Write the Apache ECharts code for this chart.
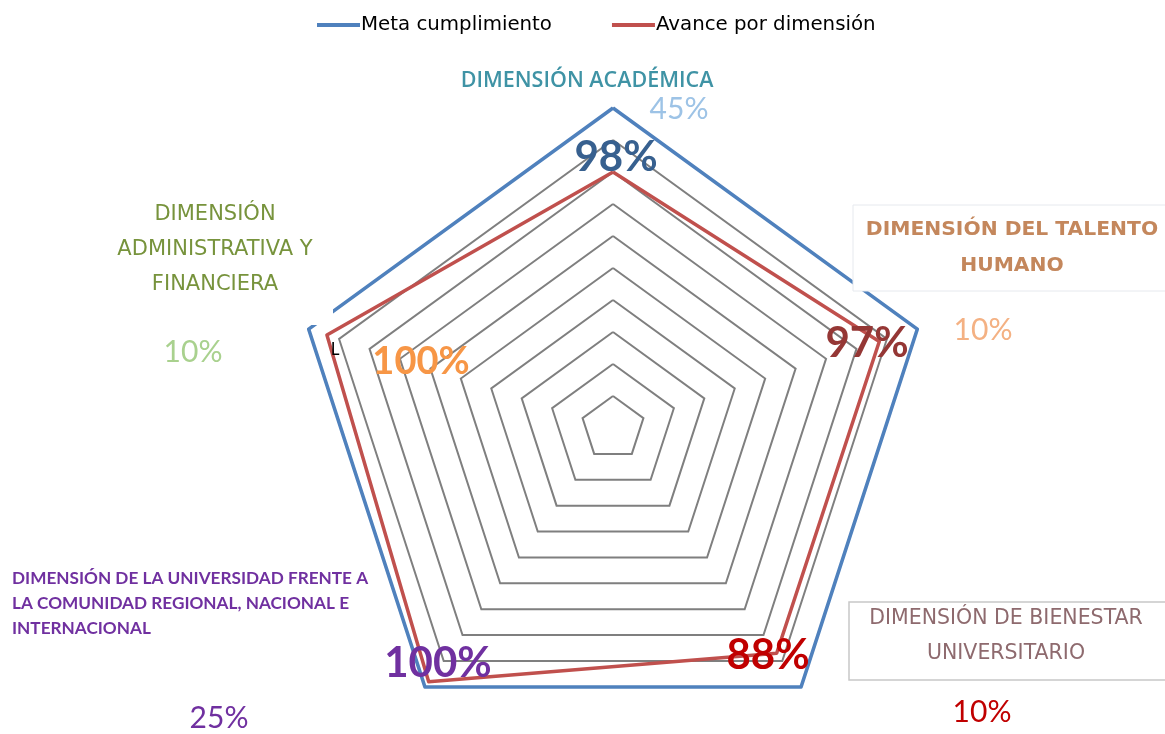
<!DOCTYPE html>
<html>
<head>
<meta charset="utf-8">
<script src="https://cdn.jsdelivr.net/npm/echarts@6/dist/echarts.min.js"></script>
<style>
  html, body { margin: 0; padding: 0; background: #fff; }
  #radarChart { width: 1165px; height: 734px; }
</style>
</head>
<body>
<div id="radarChart"></div>
<script>
'use strict'
// indicators in ECharts order (counter-clockwise from the top)
var dimensiones = [
  'DIMENSIÓN ACADÉMICA',
  'DIMENSIÓN\nADMINISTRATIVA Y\nFINANCIERA',
  'DIMENSIÓN DE LA UNIVERSIDAD FRENTE A\nLA COMUNIDAD REGIONAL, NACIONAL E\nINTERNACIONAL',
  'DIMENSIÓN DE BIENESTAR\nUNIVERSITARIO',
  'DIMENSIÓN DEL TALENTO\nHUMANO'
];
var seriesNames = ['Meta cumplimiento', 'Avance por dimensión'];
var meta = [1, 1, 1, 1, 1];
var avance = [0.80, 0.94, 0.98, 0.87, 0.875];
var pesos = ['45%', '10%', '25%', '10%', '10%'];
var avanceTxt = ['98%', '100%', '100%', '88%', '97%'];

var LATO = 'Lato, "Open Sans", sans-serif';
var OPEN = '"Open Sans", Lato, sans-serif';
var DEJA = '"DejaVu Sans", sans-serif';

function txt(text, x, y, color, size, weight, align, lh, family) {
  return {
    type: 'text', z: 120,
    style: {
      text: text, x: x, y: y, fill: color,
      font: (weight || 'normal') + ' ' + size + 'px ' + (family || LATO),
      textAlign: align || 'center', align: align || 'center',
      textVerticalAlign: 'middle', verticalAlign: 'middle',
      lineHeight: lh || size * 1.2
    }
  };
}

var radarChart = echarts.init(document.getElementById('radarChart'));

radarChart.setOption({
  animation: false,
  color: ['#4f81bd', '#c0504d'],
  legend: {
    data: seriesNames,
    top: 10,
    left: 312,
    icon: 'rect',
    itemWidth: 43,
    itemHeight: 4,
    itemGap: 60,
    textStyle: { fontFamily: DEJA, fontSize: 19.8, color: '#000', padding: [0, 0, 0, -4] }
  },
  radar: {
    center: [613, 428],
    radius: 320,
    startAngle: 90,
    shape: 'polygon',
    splitNumber: 10,
    indicator: dimensiones.map(function (n) { return { name: n, min: 0, max: 1 }; }),
    axisName: { show: false },
    axisLine: { show: false },
    axisTick: { show: false },
    axisLabel: { show: false },
    splitArea: { show: false },
    splitLine: { lineStyle: { color: '#7f7f7f', width: 2 } }
  },
  series: [
    {
      name: seriesNames[0],
      type: 'radar',
      symbol: 'none',
      lineStyle: { width: 3.5, color: '#4f81bd' },
      data: [{ value: meta, name: seriesNames[0] }]
    },
    {
      name: seriesNames[1],
      type: 'radar',
      symbol: 'none',
      lineStyle: { width: 3.5, color: '#c0504d' },
      data: [{ value: avance, name: seriesNames[1] }]
    }
  ],
  graphic: [
    // pasted boxes on the right
    { type: 'rect', z: 110, shape: { x: 853, y: 205, width: 320, height: 86 },
      style: { fill: '#fff', stroke: '#e6e9ee', lineWidth: 1 } },
    { type: 'rect', z: 110, shape: { x: 849, y: 602, width: 320, height: 78 },
      style: { fill: '#fff', stroke: '#c8c8c8', lineWidth: 1.5 } },
    // small gap in the blue line near the left vertex
    { type: 'rect', z: 110, shape: { x: 309, y: 300, width: 24, height: 25 },
      style: { fill: '#fff' } },
    txt('L', 335, 350, '#000', 17, 'normal'),

    // dimension names
    txt(dimensiones[0], 587, 81, '#3f93a5', 21.5, '600', 'center', null, OPEN),
    txt(dimensiones[4], 1012, 248, '#c4875c', 20.3, 'bold', 'center', 36, DEJA),
    txt(dimensiones[3], 1006, 636, '#8e6a6e', 20.5, 'normal', 'center', 35, DEJA),
    txt(dimensiones[2], 12, 603, '#7030a0', 17.2, 'bold', 'left', 25),
    txt(dimensiones[1], 215, 250, '#77933c', 21, 'normal', 'center', 35, DEJA),

    // weights
    txt(pesos[0], 679, 109, '#9dc3e6', 30, 'normal'),
    txt(pesos[4], 983, 330, '#f4b183', 30, 'normal'),
    txt(pesos[3], 982, 712, '#c00000', 30, 'normal'),
    txt(pesos[2], 219, 718, '#7030a0', 30, 'normal'),
    txt(pesos[1], 193, 352, '#a9d18e', 30, 'normal'),

    // progress labels
    txt(avanceTxt[0], 616, 157, '#37608f', 42, 'bold'),
    txt(avanceTxt[4], 867, 343, '#953735', 42, 'bold'),
    txt(avanceTxt[3], 768, 655, '#c00000', 42, 'bold'),
    txt(avanceTxt[2], 438, 663, '#7030a0', 42, 'bold'),
    txt(avanceTxt[1], 421, 362, '#f79646', 38, 'bold')
  ]
});
</script>
</body>
</html>
